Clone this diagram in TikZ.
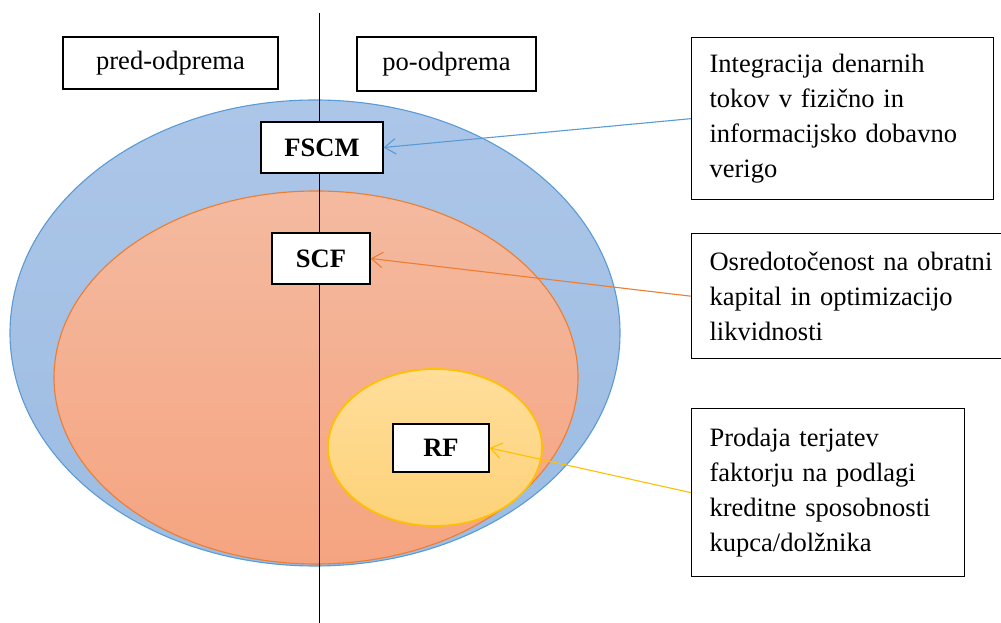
\documentclass[tikz,border=0pt]{standalone}
\usepackage{fontspec}
\setmainfont{Liberation Serif}
\usetikzlibrary{arrows.meta,positioning,backgrounds}
\definecolor{fscmBlue}{RGB}{91,155,213}
\definecolor{fscmTop}{RGB}{172,198,232}
\definecolor{fscmBottom}{RGB}{156,188,226}
\definecolor{scfOrange}{RGB}{237,125,49}
\definecolor{scfTop}{RGB}{244,186,160}
\definecolor{scfBottom}{RGB}{245,164,128}
\definecolor{rfYellow}{RGB}{255,192,0}
\definecolor{rfTop}{RGB}{255,222,155}
\definecolor{rfBottom}{RGB}{253,210,120}

\begin{document}
\begin{tikzpicture}[x=0.4525pt, y=-0.4525pt,
  every node/.style={font=\fontsize{12}{15.8}\selectfont},
  faza/.style={draw, fill=white, line width=0.6pt, inner sep=0pt},
  oznaka/.style={draw, fill=white, line width=0.6pt, inner sep=0pt, font=\fontsize{12}{15.8}\selectfont\bfseries},
  opis/.style={draw, fill=white, line width=0.6pt, anchor=north west, align=left, inner xsep=8.1pt, inner ysep=0pt},
  puscica/.style={-{Straight Barb[length=5pt, width=7pt]}, line width=0.5pt}]
  \useasboundingbox (0,0) rectangle (1001,623);
  % Phases
  \node[faza, minimum width=97.3pt, minimum height=23.5pt] (pred) at (170.5,63) {pred-odprema};
  \node[faza, minimum width=81pt, minimum height=24.4pt] (po) at (446.5,64) {po-odprema};
  % Labels inside the ellipses
  \node[oznaka, minimum width=55.2pt, minimum height=23.1pt] (fscm) at (322,147.5) {FSCM};
  \node[oznaka, minimum width=44.3pt, minimum height=23.1pt] (scf) at (321,258.5) {SCF};
  \node[oznaka, minimum width=43.4pt, minimum height=21.7pt] (rf) at (441,448) {RF};
  % Descriptions
  \node[opis, text width=120.5pt, minimum height=73.3pt] (opisfscm) at (691,37)
    {Integracija denarnih\\ tokov v fizično in\\ informacijsko dobavno\\ verigo};
  \node[opis, text width=133pt, minimum height=56.6pt] (opisscf) at (691,233)
    {Osredotočenost na obratni\\ kapital in optimizacijo\\ likvidnosti};
  \node[opis, text width=107.3pt, minimum height=76pt] (opisrf) at (691,408)
    {Prodaja terjatev\\ faktorju na podlagi\\ kreditne sposobnosti\\ kupca/dolžnika};
  % Ellipses and the dividing line
  \begin{scope}[on background layer]
    \shade[draw=fscmBlue, line width=0.5pt, top color=fscmTop, bottom color=fscmBottom]
      (315,333) ellipse [x radius=305, y radius=233];
    \shade[draw=scfOrange, line width=0.5pt, top color=scfTop, bottom color=scfBottom]
      (316,377.5) ellipse [x radius=262, y radius=186.5];
    \shade[draw=rfYellow, line width=0.8pt, top color=rfTop, bottom color=rfBottom]
      (435,447.5) ellipse [x radius=107, y radius=78.5];
    \coordinate (vrh) at (319.5,13);
    \coordinate (dno) at (319.5,623);
    \draw[line width=0.6pt] (vrh) -- (dno);
  \end{scope}
  % Arrows
  \draw[puscica, fscmBlue] (opisfscm.west) -- (fscm.east);
  \draw[puscica, scfOrange] (opisscf.west) -- (scf.east);
  \draw[puscica, rfYellow] (opisrf.west) -- (rf.east);
\end{tikzpicture}
\end{document}
